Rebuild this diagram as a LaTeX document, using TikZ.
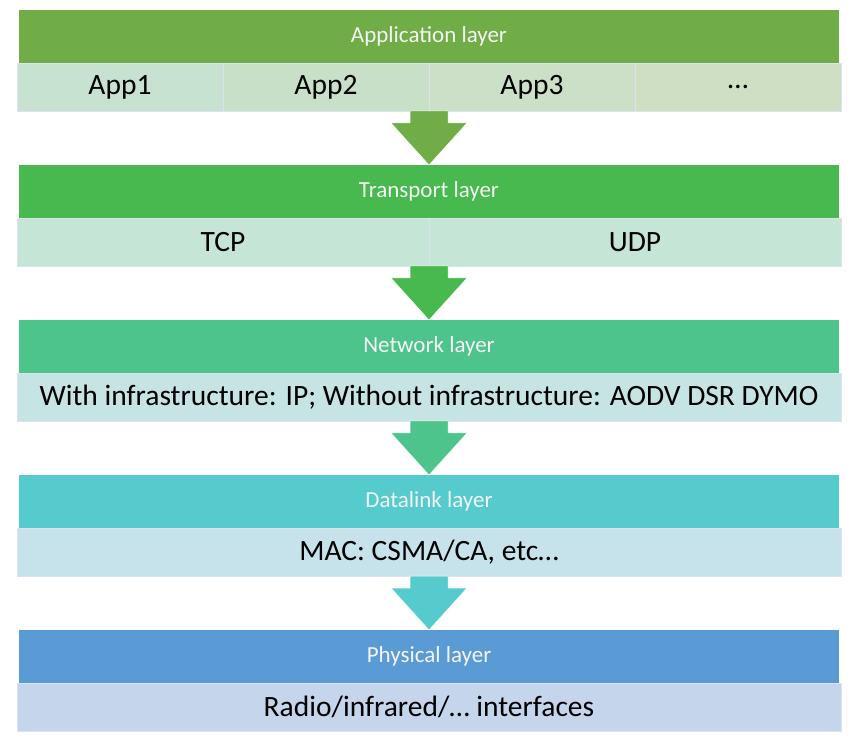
\documentclass[tikz,border=0pt]{standalone}
\usepackage{fontspec}
\setmainfont{Carlito}
\usetikzlibrary{positioning,calc}

\definecolor{appc}{HTML}{70AD47}
\definecolor{transc}{HTML}{47B94F}
\definecolor{netc}{HTML}{4DC48B}
\definecolor{linkc}{HTML}{55CBCD}
\definecolor{phyc}{HTML}{5B9BD5}
\definecolor{appsuba}{HTML}{C7E2D0}
\definecolor{appsubb}{HTML}{C8DFC8}
\definecolor{appsubc}{HTML}{CBE0C6}
\definecolor{appsubd}{HTML}{CEDFC4}
\definecolor{transsubc}{HTML}{C5E5D7}
\definecolor{netsubc}{HTML}{C6E4E3}
\definecolor{linksubc}{HTML}{C6E2EA}
\definecolor{physubc}{HTML}{C5D6EC}
\definecolor{hdrtext}{HTML}{F4F4F4}
\definecolor{celledge}{HTML}{DDE3EE}

\tikzset{
	hdr/.style={minimum width=820pt, minimum height=53pt, inner sep=0pt, outer sep=0pt, text=hdrtext, font=\fontsize{23}{26}\selectfont},
	cell/.style={minimum height=48pt, inner sep=0pt, outer sep=0pt, draw=celledge, line width=0.8pt, font=\fontsize{29.5}{33}\selectfont}
}

% block arrow from the bottom of one layer to the top of the next
\newcommand{\layerarrow}[3]{%
	\fill[#3, draw=white, line width=0.5pt] ($(#1.south)+(-19,-48)$) -- ++(38,0) -- ++(0,-12) -- ++(19,0) -- (#2.north) -- ($(#1.south)+(-38,-60)$) -- ++(19,0) -- cycle;}

\begin{document}
\begin{tikzpicture}[x=1pt, y=1pt]
	\useasboundingbox (0,0) rectangle (850,747);

	% application
	\node[hdr, fill=appc] (app) at (429,710.5) {Application layer};
	\node[cell, fill=appsuba, minimum width=206pt, anchor=north west] (app1) at ($(app.south west)+(-2,0)$) {App1};
	\node[cell, fill=appsubb, minimum width=206pt, right=0pt of app1] (app2) {App2};
	\node[cell, fill=appsubc, minimum width=206pt, right=0pt of app2] (app3) {App3};
	\node[cell, fill=appsubd, minimum width=206pt, right=0pt of app3] (app4) {…};

	% transport
	\node[hdr, fill=transc, below=102pt of app] (trans) {Transport layer};
	\node[cell, fill=transsubc, minimum width=412pt, anchor=north west] (tcp) at ($(trans.south west)+(-2,0)$) {TCP};
	\node[cell, fill=transsubc, minimum width=412pt, right=0pt of tcp] (udp) {UDP};

	% network
	\node[hdr, fill=netc, below=102pt of trans] (net) {Network layer};
	\node[cell, fill=netsubc, minimum width=824pt, below=0pt of net] (netsub) {With infrastructure: IP; Without infrastructure: AODV DSR DYMO};

	% datalink
	\node[hdr, fill=linkc, below=102pt of net] (link) {Datalink layer};
	\node[cell, fill=linksubc, minimum width=824pt, below=0pt of link] (linksub) {MAC: CSMA/CA, etc…};

	% physical
	\node[hdr, fill=phyc, below=102pt of link] (phy) {Physical layer};
	\node[cell, fill=physubc, minimum width=824pt, below=0pt of phy] (physub) {Radio/infrared/… interfaces};

	\layerarrow{app}{trans}{appc}
	\layerarrow{trans}{net}{transc}
	\layerarrow{net}{link}{netc}
	\layerarrow{link}{phy}{linkc}
\end{tikzpicture}
\end{document}
